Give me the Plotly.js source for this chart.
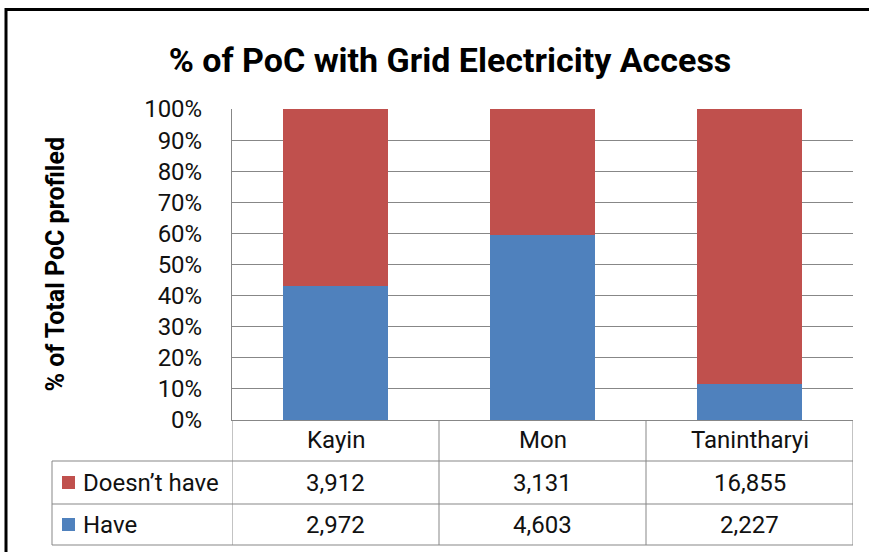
<!DOCTYPE html>
<html><head><meta charset="utf-8">
<script src="https://cdn.plot.ly/plotly-3.0.1.min.js"></script>
<style>html,body{margin:0;padding:0;background:#fff}#chart{width:869px;height:552px}</style>
</head><body><div id="chart"></div>
<script>
// ---- data ----
const categories = ['Kayin', 'Mon', 'Tanintharyi'];
const haveValues = [2972, 4603, 2227];
const doesntHaveValues = [3912, 3131, 16855];
const seriesNames = ['Have', 'Doesn\u2019t have'];
const seriesColors = ['#4F81BD', '#C0504D'];
const yTickValues = [0, 10, 20, 30, 40, 50, 60, 70, 80, 90, 100];
const chartTitle = '% of PoC with Grid Electricity Access';
const yTitle = '% of Total PoC profiled';

// ---- geometry helpers (pixel -> paper) ----
const W = 869, H = 552;
const plotL = 232, plotR = 853, plotT = 109, plotB = 420;
const px = x => (x - plotL) / (plotR - plotL);
const py = y => (plotB - y) / (plotB - plotT);

const FONT = 'Roboto';
const gridGray = '#878787';
const fmt = v => v.toLocaleString('en-US');

const traces = [
  {type: 'bar', name: seriesNames[0], x: categories, y: haveValues,
   marker: {color: seriesColors[0], line: {width: 0}}, hoverinfo: 'skip'},
  {type: 'bar', name: seriesNames[1], x: categories, y: doesntHaveValues,
   marker: {color: seriesColors[1], line: {width: 0}}, hoverinfo: 'skip'}
];

// table rows: first row "Doesn't have", second "Have"
const tableRows = [
  {name: seriesNames[1], color: seriesColors[1], values: doesntHaveValues, center: 482.5},
  {name: seriesNames[0], color: seriesColors[0], values: haveValues, center: 524.5}
];

const shapes = [];
const annotations = [];
const lineStyle = {color: gridGray, width: 1};

// horizontal table lines
[461, 504, 545].forEach(y => shapes.push({type: 'line', xref: 'paper', yref: 'paper',
  x0: px(52), x1: px(plotR), y0: py(y), y1: py(y), line: lineStyle}));
// vertical lines at category boundaries
for (let i = 0; i <= categories.length; i++) {
  shapes.push({type: 'line', xref: 'x', yref: 'paper', x0: i - 0.5, x1: i - 0.5,
    y0: py(plotB), y1: py(545), line: lineStyle});
}
// left border of table legend column
shapes.push({type: 'line', xref: 'paper', yref: 'paper', x0: px(52), x1: px(52),
  y0: py(461), y1: py(545), line: lineStyle});

// category header labels
categories.forEach((c, i) => annotations.push({xref: 'x', yref: 'paper', x: i, y: py(440.5),
  text: c, showarrow: false, xanchor: 'center', yanchor: 'middle',
  font: {family: FONT, size: 24, color: '#111'}}));

// table rows
tableRows.forEach(r => {
  shapes.push({type: 'rect', xref: 'paper', yref: 'paper', x0: px(62), x1: px(75),
    y0: py(r.center - 6.5), y1: py(r.center + 6.5), fillcolor: r.color, line: {width: 0}});
  annotations.push({xref: 'paper', yref: 'paper', x: px(81), y: py(r.center),
    text: r.name, showarrow: false, xanchor: 'left', yanchor: 'middle',
    font: {family: FONT, size: 24, color: '#111'}});
  r.values.forEach((v, i) => annotations.push({xref: 'x', yref: 'paper', x: i, y: py(r.center),
    text: fmt(v), showarrow: false, xanchor: 'center', yanchor: 'middle',
    font: {family: FONT, size: 24, color: '#111'}}));
});

// y axis title
annotations.push({xref: 'paper', yref: 'paper', x: px(55), y: 0.5, text: '<b>' + yTitle + '</b>',
  textangle: -90, showarrow: false, xanchor: 'center', yanchor: 'middle',
  font: {family: FONT, size: 25, color: '#000'}});

// outer chart frame (left and top)
shapes.push({type: 'line', xref: 'paper', yref: 'paper', x0: px(6), x1: px(6),
  y0: py(8), y1: py(H + 10), line: {color: '#000', width: 3}});
shapes.push({type: 'line', xref: 'paper', yref: 'paper', x0: px(5), x1: px(W + 10),
  y0: py(9.5), y1: py(9.5), line: {color: '#000', width: 3}});

const layout = {
  width: W, height: H,
  margin: {l: plotL, r: W - plotR, t: plotT, b: H - plotB, pad: 0},
  paper_bgcolor: '#fff', plot_bgcolor: '#fff',
  barmode: 'stack', barnorm: 'percent', bargap: 0.488,
  showlegend: false,
  title: {text: '<b>' + chartTitle + '</b>', x: 450 / W, xanchor: 'center', xref: 'container',
    y: 1 - 60 / H, yref: 'container', yanchor: 'middle',
    font: {family: FONT, size: 34, color: '#000'}},
  xaxis: {type: 'category', range: [-0.5, categories.length - 0.5], showticklabels: false,
    showgrid: false, zeroline: false, showline: true, linecolor: gridGray, linewidth: 1,
    ticks: '', fixedrange: true},
  yaxis: {range: [0, 100], tickvals: yTickValues, ticktext: yTickValues.map(v => v + '%'),
    showgrid: true, gridcolor: gridGray, gridwidth: 1, zeroline: false,
    showline: true, linecolor: gridGray, linewidth: 1, ticks: '', ticklabelstandoff: 24,
    tickfont: {family: FONT, size: 24, color: '#111'}, fixedrange: true},
  shapes: shapes, annotations: annotations
};

Plotly.newPlot('chart', traces, layout, {displayModeBar: false, staticPlot: true});
</script></body></html>
